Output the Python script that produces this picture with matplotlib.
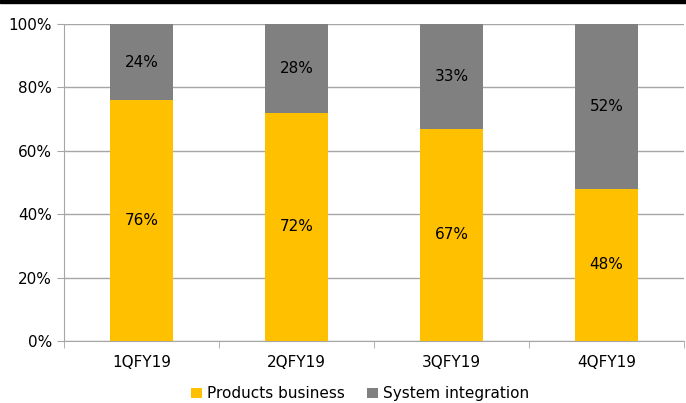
import matplotlib.pyplot as plt
import numpy as np
from matplotlib.patches import Rectangle

quarters = ["1QFY19", "2QFY19", "3QFY19", "4QFY19"]
products = [76, 72, 67, 48]
system_int = [24, 28, 33, 52]

plt.rcParams['font.family'] = ['Liberation Sans Narrow', 'DejaVu Sans']

fig = plt.figure(figsize=(6.86, 4.03), dpi=100)
ax = fig.add_axes([64 / 686, 1 - 341 / 403, 620 / 686, 317 / 403])

x = np.arange(len(quarters))
w = 0.41
yellow = "#FFC000"
grey = "#808080"
ax.bar(x, products, w, color=yellow, label="Products business", zorder=3)
ax.bar(x, system_int, w, bottom=products, color=grey, label="System integration", zorder=3)

for i in range(len(quarters)):
    ax.text(x[i], products[i] / 2, f"{products[i]}%", ha="center", va="center", fontsize=11, zorder=4)
    ax.text(x[i], products[i] + system_int[i] / 2, f"{system_int[i]}%", ha="center", va="center", fontsize=11, zorder=4)

ax.set_xlim(-0.5, len(quarters) - 0.5)
ax.set_ylim(0, 100)
ax.set_yticks(np.arange(0, 101, 20))
ax.set_yticklabels([f"{v}%" for v in range(0, 101, 20)], fontsize=11)
ax.set_xticks(x)
ax.set_xticklabels(quarters, fontsize=11)
ax.set_xticks(np.arange(-0.5, len(quarters), 1), minor=True)
ax.tick_params(axis="x", which="major", length=0, pad=10)
ax.tick_params(axis="x", which="minor", length=5, color="#A6A6A6")
ax.tick_params(axis="y", length=5, color="#A6A6A6")
ax.grid(axis="y", color="#A6A6A6", linewidth=1, zorder=0)
for s in ["top", "right"]:
    ax.spines[s].set_visible(False)
for s in ["left", "bottom"]:
    ax.spines[s].set_color("#A6A6A6")

fig.legend(*ax.get_legend_handles_labels(), loc="lower center", bbox_to_anchor=(360 / 686, 0),
           borderaxespad=0, borderpad=0.1, ncol=2, frameon=False,
           fontsize=11, handlelength=0.7, handleheight=0.7, handletextpad=0.3, columnspacing=1.5)

fig.patches.append(Rectangle((0, 1 - 3 / 403), 1, 3 / 403, transform=fig.transFigure, color="black"))

plt.savefig("out.png", dpi=100)
